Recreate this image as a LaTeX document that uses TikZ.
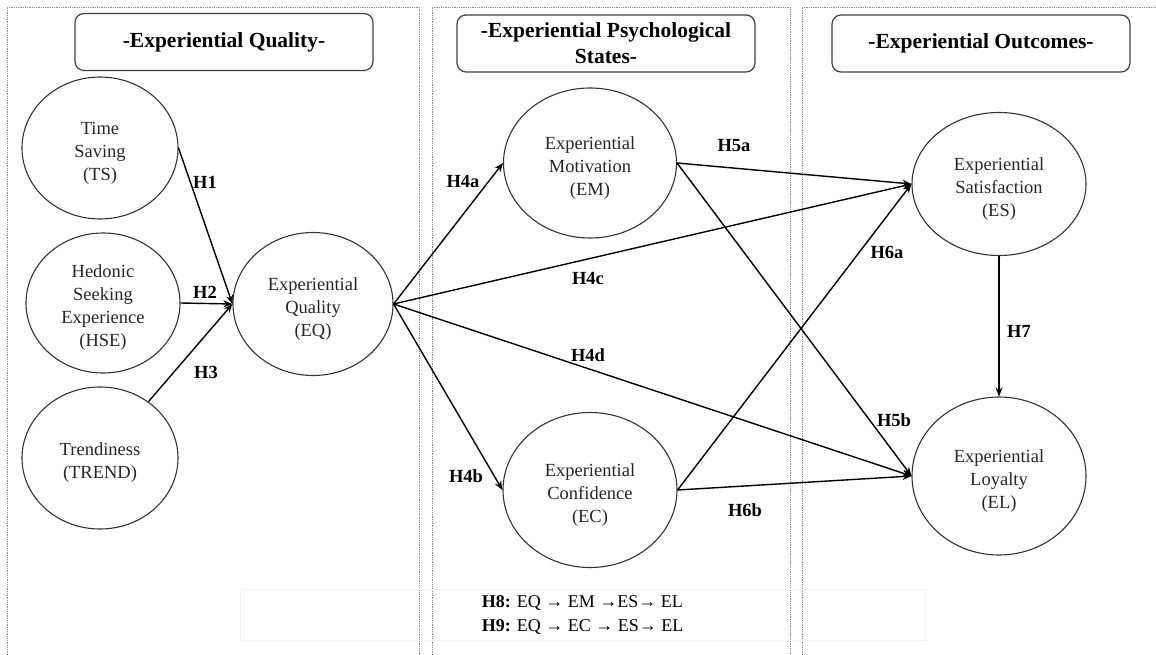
\documentclass[tikz,border=0pt]{standalone}
\usepackage{fontspec}
\setmainfont{Liberation Serif}
\usetikzlibrary{arrows.meta, positioning, shapes.geometric}
\newcommand{\topgap}{\rule{0pt}{22pt}}

\begin{document}
\begin{tikzpicture}[
    x=1pt, y=-1pt,
    construct/.style={draw=black!80, line width=1.1pt, ellipse, inner sep=0pt, align=center, text=black!85, font=\fontsize{18.5}{23}\selectfont},
    header/.style={draw=black!75, line width=1.2pt, rounded corners=9pt, minimum width=298pt, minimum height=57pt, align=center, inner sep=0pt, font=\fontsize{21.5}{26}\selectfont\bfseries},
    hyp/.style={font=\fontsize{18.5}{22}\selectfont\bfseries, inner sep=0pt},
    link/.style={-{Stealth[length=9pt, width=7pt]}, line width=1.4pt},
    panel/.style={draw=black!45, densely dotted, line width=0.8pt}
]
  \useasboundingbox (0,0) rectangle (1156,655);

  % panels
  \draw[panel] (7,655) -- (7,7) -- (419,7) -- (419,655);
  \draw[panel] (432,655) -- (432,7) -- (790,7) -- (790,655);
  \draw[panel] (802,655) -- (802,7) -- (1156,7);

  % headers
  \node[header] (hQ) at (224,42) {-Experiential Quality-};
  \node[header] (hS) at (606,43.5) {-Experiential Psychological\\States-};
  \node[header] (hO) at (981,43.5) {-Experiential Outcomes-};

  % constructs
  \node[construct, minimum width=156pt, minimum height=142pt] (TS) at (100,148) {\topgap Time\\Saving\\(TS)};
  \node[construct, minimum width=154pt, minimum height=140pt] (HSE) at (103,303) {\topgap Hedonic\\Seeking\\Experience\\(HSE)};
  \node[construct, minimum width=156pt, minimum height=142pt] (TREND) at (100,458) {\topgap Trendiness\\(TREND)};
  \node[construct, minimum width=160pt, minimum height=143pt] (EQ) at (313,304) {\topgap Experiential\\Quality\\(EQ)};
  \node[construct, minimum width=173pt, minimum height=150pt] (EM) at (590,163) {\topgap Experiential\\Motivation\\(EM)};
  \node[construct, minimum width=174pt, minimum height=155pt] (EC) at (590,490) {\topgap Experiential\\Confidence\\(EC)};
  \node[construct, minimum width=174pt, minimum height=143pt] (ES) at (999,184) {\topgap Experiential\\Satisfaction\\(ES)};
  \node[construct, minimum width=174pt, minimum height=158pt] (EL) at (999,476) {\topgap Experiential\\Loyalty\\(EL)};

  % paths
  \draw[link] (TS.east) -- (EQ.west);
  \draw[link] (HSE.east) -- (EQ.west);
  \draw[link] (TREND) -- (EQ.west);
  \draw[link] (EQ.east) -- (EM.west);
  \draw[link] (EQ.east) -- (EC.west);
  \draw[link] (EQ.east) -- (ES.west);
  \draw[link] (EQ.east) -- (EL.west);
  \draw[link] (EM.east) -- (ES.west);
  \draw[link] (EM.east) -- (EL.west);
  \draw[link] (EC.east) -- (ES.west);
  \draw[link] (EC.east) -- (EL.west);
  \draw[link] (ES.south) -- (EL.north);

  % hypothesis labels
  \node[hyp] (H1) at (205,182) {H1};
  \node[hyp] (H2) at (205,292) {H2};
  \node[hyp] (H3) at (206,372) {H3};
  \node[hyp] (H4a) at (463,182) {H4a};
  \node[hyp] (H4b) at (466,476) {H4b};
  \node[hyp] (H4c) at (588,278) {H4c};
  \node[hyp] (H4d) at (588,355) {H4d};
  \node[hyp] (H5a) at (734,146) {H5a};
  \node[hyp] (H5b) at (894,420) {H5b};
  \node[hyp] (H6a) at (887,252) {H6a};
  \node[hyp] (H6b) at (745,510) {H6b};
  \node[hyp] (H7) at (1019,331) {H7};

  % mediation
  \node[draw=black!5, line width=0.6pt, minimum width=685pt, minimum height=51pt, align=left, font=\fontsize{18}{24}\selectfont] (med) at (582.5,614.5)
    {\textbf{H8:} EQ → EM →ES→ EL\\\textbf{H9:} EQ → EC → ES→ EL};
\end{tikzpicture}
\end{document}
